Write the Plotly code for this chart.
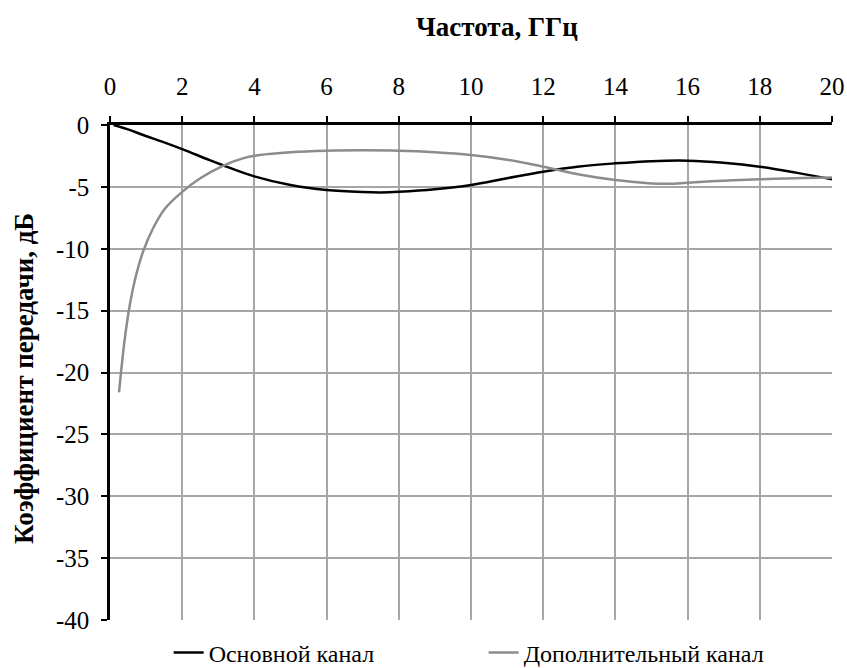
import plotly.graph_objects as go

# Основной канал (black)
x_main = [0.1, 0.5, 0.92, 1.5, 2, 2.76, 3.13, 4, 5, 6, 7, 7.5, 8, 9, 10, 11, 12, 13, 14, 15, 16, 17, 18, 19, 20]
y_main = [0.0, -0.35, -0.81, -1.4, -1.95, -2.84, -3.25, -4.15, -4.85, -5.25, -5.42, -5.45, -5.4, -5.2, -4.85, -4.3, -3.77, -3.35, -3.1, -2.92, -2.88, -3.05, -3.37, -3.85, -4.39]

# Дополнительный канал (gray)
x_add = [0.25, 0.4, 0.55, 0.7, 0.92, 1.2, 1.52, 2.0, 2.49, 3.13, 3.68, 4.14, 5, 6, 7, 8, 9, 10, 11, 12, 13, 14, 15, 15.5, 16, 17, 18, 19, 20]
y_add = [-21.6, -17.5, -14.5, -12.4, -10.2, -8.3, -6.76, -5.4, -4.32, -3.3, -2.7, -2.43, -2.2, -2.08, -2.05, -2.08, -2.2, -2.42, -2.8, -3.37, -4.0, -4.45, -4.72, -4.75, -4.66, -4.5, -4.39, -4.3, -4.25]

x_ticks = list(range(0, 21, 2))
y_ticks = list(range(-40, 1, 5))

FONT = "Liberation Serif, Times New Roman, serif"
W, H = 847, 668
L, R, T, B = 110, 15, 125, 48
PW, PH = W - L - R, H - T - B

fig = go.Figure()
fig.add_trace(go.Scatter(x=x_main, y=y_main, mode="lines", name="Основной канал",
                         line=dict(color="#000000", width=2.5, shape="spline", smoothing=1.0)))
fig.add_trace(go.Scatter(x=x_add, y=y_add, mode="lines", name="Дополнительный канал",
                         line=dict(color="#8c8c8c", width=2.5, shape="spline", smoothing=1.0)))

axis_common = dict(showgrid=True, gridcolor="#a6a6a6", gridwidth=1.5,
                   showline=True, linecolor="black", linewidth=2.5,
                   ticks="outside", ticklen=6, tickwidth=2, tickcolor="black",
                   zeroline=False, tickfont=dict(family=FONT, size=25), fixedrange=True,
                   automargin=False)

fig.update_layout(
    width=W, height=H,
    margin=dict(l=L, r=R, t=T, b=B, autoexpand=False),
    paper_bgcolor="white", plot_bgcolor="white",
    font=dict(family=FONT, size=24, color="black"),
    showlegend=True,
    legend=dict(orientation="h", xref="container", yref="container",
                x=0.571, xanchor="center", y=(H - 653) / H, yanchor="middle",
                font=dict(family=FONT, size=24), itemwidth=30, entrywidth=270,
                bgcolor="rgba(0,0,0,0)"),
    xaxis=dict(range=[0, 20], side="top", tickvals=x_ticks, ticktext=[str(v) for v in x_ticks],
               ticklabelstandoff=11, **axis_common),
    yaxis=dict(range=[-40, 0], tickvals=y_ticks, ticktext=[str(v) for v in y_ticks],
               ticklabelstandoff=7, **axis_common),
    annotations=[
        dict(text="<b>Частота, ГГц</b>", xref="paper", yref="paper",
             x=(497 - L) / PW, y=1 + (T - 27) / PH, xanchor="center", yanchor="middle",
             showarrow=False, font=dict(family=FONT, size=27)),
        dict(text="<b>Коэффициент передачи, дБ</b>", xref="paper", yref="paper",
             x=-(L - 24) / PW, y=(H - B - 379) / PH, xanchor="center", yanchor="middle",
             textangle=-90, showarrow=False, font=dict(family=FONT, size=27)),
    ],
)

fig.write_html("out.html")
